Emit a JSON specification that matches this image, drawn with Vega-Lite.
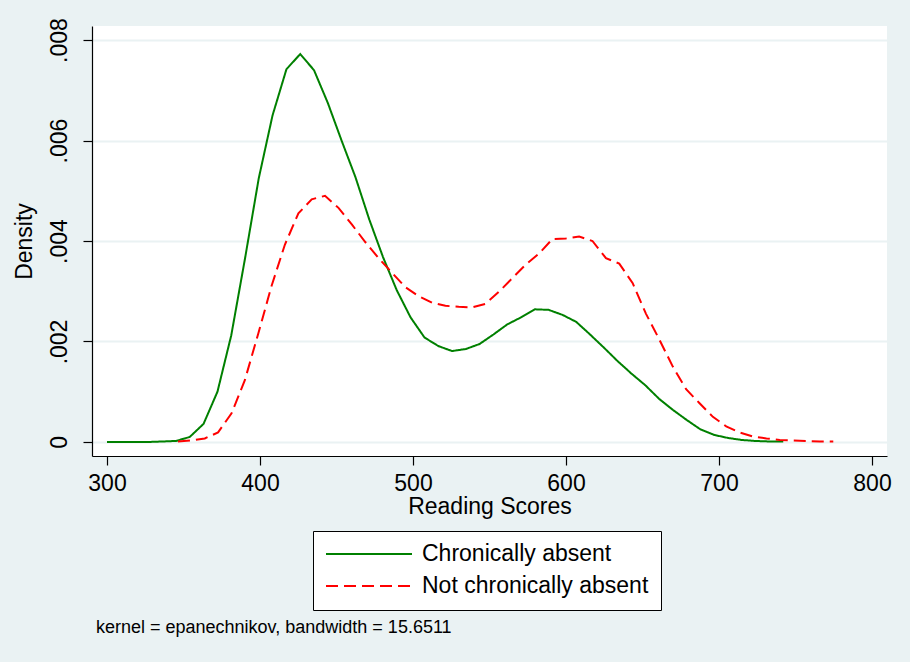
{
  "$schema": "https://vega.github.io/schema/vega-lite/v6.json",
  "autosize": {"type": "none"},
  "width": 795,
  "height": 430,
  "padding": {"left": 92, "top": 26, "right": 23, "bottom": 206},
  "background": "#EAF2F3",
  "config": {
    "font": "Liberation Sans",
    "view": {"fill": "white", "stroke": null},
    "axis": {
      "labelFont": "Liberation Sans",
      "titleFont": "Liberation Sans",
      "labelFontSize": 23,
      "titleFontSize": 23,
      "titleFontWeight": "normal",
      "labelColor": "black",
      "titleColor": "black",
      "domainColor": "black",
      "tickColor": "black",
      "domainWidth": 1.2,
      "tickWidth": 1.2,
      "tickSize": 9
    }
  },
  "title": {
    "text": "kernel = epanechnikov, bandwidth = 15.6511",
    "orient": "bottom",
    "anchor": "start",
    "frame": "group",
    "font": "Liberation Sans",
    "fontSize": 18,
    "fontWeight": "normal",
    "color": "black",
    "dx": 4,
    "offset": 8
  },
  "data": {
    "values": [
      {"score": 300.0, "density": 0.0, "group": "Chronically absent"},
      {"score": 309.0, "density": 0.0, "group": "Chronically absent"},
      {"score": 318.0, "density": 0.0, "group": "Chronically absent"},
      {"score": 327.1, "density": 0.0, "group": "Chronically absent"},
      {"score": 336.1, "density": 0.00001, "group": "Chronically absent"},
      {"score": 345.1, "density": 0.00002, "group": "Chronically absent"},
      {"score": 354.1, "density": 0.0001, "group": "Chronically absent"},
      {"score": 363.1, "density": 0.00036, "group": "Chronically absent"},
      {"score": 372.2, "density": 0.001, "group": "Chronically absent"},
      {"score": 381.2, "density": 0.00212, "group": "Chronically absent"},
      {"score": 390.2, "density": 0.00365, "group": "Chronically absent"},
      {"score": 399.2, "density": 0.00525, "group": "Chronically absent"},
      {"score": 408.2, "density": 0.0065, "group": "Chronically absent"},
      {"score": 417.3, "density": 0.00742, "group": "Chronically absent"},
      {"score": 426.3, "density": 0.00772, "group": "Chronically absent"},
      {"score": 435.3, "density": 0.0074, "group": "Chronically absent"},
      {"score": 444.3, "density": 0.00675, "group": "Chronically absent"},
      {"score": 453.3, "density": 0.006, "group": "Chronically absent"},
      {"score": 462.4, "density": 0.00527, "group": "Chronically absent"},
      {"score": 471.4, "density": 0.00443, "group": "Chronically absent"},
      {"score": 480.4, "density": 0.00368, "group": "Chronically absent"},
      {"score": 489.4, "density": 0.00302, "group": "Chronically absent"},
      {"score": 498.4, "density": 0.00248, "group": "Chronically absent"},
      {"score": 507.5, "density": 0.00208, "group": "Chronically absent"},
      {"score": 516.5, "density": 0.00191, "group": "Chronically absent"},
      {"score": 525.5, "density": 0.00181, "group": "Chronically absent"},
      {"score": 534.5, "density": 0.00185, "group": "Chronically absent"},
      {"score": 543.5, "density": 0.00195, "group": "Chronically absent"},
      {"score": 552.6, "density": 0.00214, "group": "Chronically absent"},
      {"score": 561.6, "density": 0.00234, "group": "Chronically absent"},
      {"score": 570.6, "density": 0.00248, "group": "Chronically absent"},
      {"score": 579.6, "density": 0.00264, "group": "Chronically absent"},
      {"score": 588.6, "density": 0.00263, "group": "Chronically absent"},
      {"score": 597.7, "density": 0.00253, "group": "Chronically absent"},
      {"score": 606.7, "density": 0.00239, "group": "Chronically absent"},
      {"score": 615.7, "density": 0.00214, "group": "Chronically absent"},
      {"score": 624.7, "density": 0.00188, "group": "Chronically absent"},
      {"score": 633.7, "density": 0.00161, "group": "Chronically absent"},
      {"score": 642.8, "density": 0.00136, "group": "Chronically absent"},
      {"score": 651.8, "density": 0.00113, "group": "Chronically absent"},
      {"score": 660.8, "density": 0.00086, "group": "Chronically absent"},
      {"score": 669.8, "density": 0.00064, "group": "Chronically absent"},
      {"score": 678.8, "density": 0.00044, "group": "Chronically absent"},
      {"score": 687.9, "density": 0.00025, "group": "Chronically absent"},
      {"score": 696.9, "density": 0.00014, "group": "Chronically absent"},
      {"score": 705.9, "density": 0.00008, "group": "Chronically absent"},
      {"score": 714.9, "density": 0.00004, "group": "Chronically absent"},
      {"score": 723.9, "density": 0.00002, "group": "Chronically absent"},
      {"score": 733.0, "density": 0.00001, "group": "Chronically absent"},
      {"score": 742.0, "density": 0.00001, "group": "Chronically absent"},
      {"score": 346.4, "density": 0.00001, "group": "Not chronically absent"},
      {"score": 355.1, "density": 0.00003, "group": "Not chronically absent"},
      {"score": 363.9, "density": 0.00007, "group": "Not chronically absent"},
      {"score": 372.6, "density": 0.00019, "group": "Not chronically absent"},
      {"score": 381.4, "density": 0.00057, "group": "Not chronically absent"},
      {"score": 390.1, "density": 0.00123, "group": "Not chronically absent"},
      {"score": 398.8, "density": 0.00215, "group": "Not chronically absent"},
      {"score": 407.6, "density": 0.00311, "group": "Not chronically absent"},
      {"score": 416.3, "density": 0.00393, "group": "Not chronically absent"},
      {"score": 425.1, "density": 0.00455, "group": "Not chronically absent"},
      {"score": 433.8, "density": 0.00483, "group": "Not chronically absent"},
      {"score": 442.5, "density": 0.0049, "group": "Not chronically absent"},
      {"score": 451.3, "density": 0.00466, "group": "Not chronically absent"},
      {"score": 460.0, "density": 0.00433, "group": "Not chronically absent"},
      {"score": 468.8, "density": 0.00398, "group": "Not chronically absent"},
      {"score": 477.5, "density": 0.00366, "group": "Not chronically absent"},
      {"score": 486.2, "density": 0.00337, "group": "Not chronically absent"},
      {"score": 495.0, "density": 0.00308, "group": "Not chronically absent"},
      {"score": 503.7, "density": 0.0029, "group": "Not chronically absent"},
      {"score": 512.5, "density": 0.00277, "group": "Not chronically absent"},
      {"score": 521.2, "density": 0.00271, "group": "Not chronically absent"},
      {"score": 529.9, "density": 0.00269, "group": "Not chronically absent"},
      {"score": 538.7, "density": 0.00268, "group": "Not chronically absent"},
      {"score": 547.4, "density": 0.00275, "group": "Not chronically absent"},
      {"score": 556.2, "density": 0.00299, "group": "Not chronically absent"},
      {"score": 564.9, "density": 0.00326, "group": "Not chronically absent"},
      {"score": 573.6, "density": 0.00353, "group": "Not chronically absent"},
      {"score": 582.4, "density": 0.00375, "group": "Not chronically absent"},
      {"score": 591.1, "density": 0.00404, "group": "Not chronically absent"},
      {"score": 599.9, "density": 0.00405, "group": "Not chronically absent"},
      {"score": 608.6, "density": 0.00409, "group": "Not chronically absent"},
      {"score": 617.3, "density": 0.004, "group": "Not chronically absent"},
      {"score": 626.1, "density": 0.00366, "group": "Not chronically absent"},
      {"score": 634.8, "density": 0.00355, "group": "Not chronically absent"},
      {"score": 643.6, "density": 0.00316, "group": "Not chronically absent"},
      {"score": 652.3, "density": 0.00255, "group": "Not chronically absent"},
      {"score": 661.0, "density": 0.00204, "group": "Not chronically absent"},
      {"score": 669.8, "density": 0.0015, "group": "Not chronically absent"},
      {"score": 678.5, "density": 0.00105, "group": "Not chronically absent"},
      {"score": 687.3, "density": 0.00077, "group": "Not chronically absent"},
      {"score": 696.0, "density": 0.0005, "group": "Not chronically absent"},
      {"score": 704.7, "density": 0.00031, "group": "Not chronically absent"},
      {"score": 713.5, "density": 0.00019, "group": "Not chronically absent"},
      {"score": 722.2, "density": 0.00011, "group": "Not chronically absent"},
      {"score": 731.0, "density": 0.00007, "group": "Not chronically absent"},
      {"score": 739.7, "density": 0.00004, "group": "Not chronically absent"},
      {"score": 748.4, "density": 0.00003, "group": "Not chronically absent"},
      {"score": 757.2, "density": 0.00002, "group": "Not chronically absent"},
      {"score": 765.9, "density": 0.00001, "group": "Not chronically absent"},
      {"score": 774.7, "density": 0.00001, "group": "Not chronically absent"}
    ]
  },
  "mark": {"type": "line", "strokeWidth": 2, "interpolate": "linear"},
  "encoding": {
    "x": {
      "field": "score",
      "type": "quantitative",
      "scale": {"domain": [290.2, 809.8], "nice": false, "zero": false},
      "axis": {
        "title": "Reading Scores",
        "values": [300, 400, 500, 600, 700, 800],
        "grid": false,
        "labelPadding": 7,
        "titlePadding": 0,
        "labelFlush": false
      }
    },
    "y": {
      "field": "density",
      "type": "quantitative",
      "scale": {"domain": [-0.000279, 0.008279], "nice": false, "zero": false},
      "axis": {
        "title": "Density",
        "values": [0, 0.002, 0.004, 0.006, 0.008],
        "labelExpr": "datum.value == 0 ? '0' : substring(format(datum.value, '.3f'), 1)",
        "labelAngle": -90,
        "labelAlign": "center",
        "labelBaseline": "bottom",
        "labelPadding": 12,
        "labelFlush": false,
        "titlePadding": 12,
        "grid": true,
        "gridColor": "#EAF2F3",
        "gridWidth": 2
      }
    },
    "color": {
      "field": "group",
      "type": "nominal",
      "scale": {"domain": ["Chronically absent", "Not chronically absent"], "range": ["#008000", "#FF0000"]},
      "legend": {
        "title": null,
        "orient": "none",
        "legendX": 221,
        "legendY": 505,
        "fillColor": "white",
        "strokeColor": "black",
        "padding": 12,
        "symbolType": "stroke",
        "symbolSize": 7396,
        "symbolStrokeWidth": 2,
        "clipHeight": 22,
        "rowPadding": 9,
        "labelOffset": 9,
        "labelFont": "Liberation Sans",
        "labelFontSize": 23,
        "labelColor": "black",
        "labelLimit": 400
      }
    },
    "strokeDash": {
      "field": "group",
      "type": "nominal",
      "scale": {"domain": ["Chronically absent", "Not chronically absent"], "range": [[1, 0], [12, 6]]},
      "legend": {
        "title": null,
        "orient": "none",
        "legendX": 221,
        "legendY": 505,
        "fillColor": "white",
        "strokeColor": "black",
        "padding": 12,
        "symbolType": "stroke",
        "symbolSize": 7396,
        "symbolStrokeWidth": 2,
        "clipHeight": 22,
        "rowPadding": 9,
        "labelOffset": 9,
        "labelFont": "Liberation Sans",
        "labelFontSize": 23,
        "labelColor": "black",
        "labelLimit": 400
      }
    }
  }
}
